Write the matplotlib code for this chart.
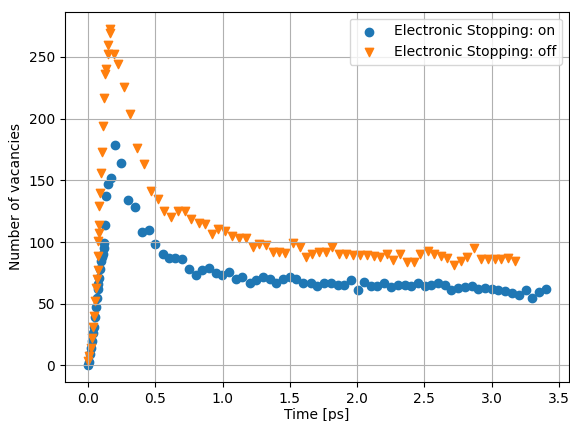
import matplotlib
matplotlib.use("Agg")
import matplotlib.pyplot as plt

# Electronic stopping on
czas_on = [0.0, 0.008, 0.016, 0.022, 0.028, 0.036, 0.043, 0.053, 0.058, 0.066,
           0.072, 0.078, 0.085, 0.093, 0.098, 0.104, 0.11, 0.117, 0.123, 0.13,
           0.137, 0.152, 0.174, 0.204, 0.249, 0.301, 0.353, 0.405, 0.457, 0.501,
           0.561, 0.605, 0.65, 0.702, 0.754, 0.802, 0.85, 0.902, 0.954, 0.999,
           1.05, 1.102, 1.147, 1.206, 1.251, 1.303, 1.355, 1.399, 1.451, 1.503,
           1.548, 1.6, 1.659, 1.704, 1.756, 1.808, 1.86, 1.904, 1.956, 2.008,
           2.053, 2.105, 2.149, 2.201, 2.253, 2.305, 2.357, 2.402, 2.454, 2.506,
           2.55, 2.602, 2.654, 2.699, 2.751, 2.803, 2.855, 2.899, 2.951, 3.003,
           3.048, 3.1, 3.152, 3.204, 3.256, 3.3, 3.352, 3.404]
wakanse_on = [0, 3, 9, 14, 20, 26, 31, 39, 47, 55,
              62, 66, 71, 78, 85, 88, 90, 95, 99, 114,
              137, 147, 152, 179, 164, 134, 128, 108, 110, 98.5,
              90, 87, 87, 86, 78, 73, 77.5, 79, 75, 73.5,
              76, 70, 72, 67, 69.5, 72, 70, 67, 70, 72,
              70, 67, 67, 64, 67, 67, 65, 65, 69.5, 61,
              68, 64.6, 64.6, 67, 63.8, 65.4, 65.4, 64.6, 67, 64.6,
              65.4, 67, 65.4, 61.4, 63, 63.8, 64.6, 62.2, 63, 62.2,
              61.4, 60.6, 59, 57.4, 61.4, 55, 59.8, 62.2]

# Electronic stopping off
czas_off = [0.0, 0.01, 0.02, 0.03, 0.04, 0.048, 0.055, 0.06, 0.066, 0.072,
            0.076, 0.078, 0.08, 0.082, 0.086, 0.09, 0.1, 0.105, 0.115, 0.122,
            0.13, 0.135, 0.147, 0.152, 0.165, 0.167, 0.192, 0.226, 0.271, 0.316,
            0.362, 0.42, 0.469, 0.523, 0.568, 0.618, 0.672, 0.722, 0.766, 0.823,
            0.87, 0.922, 0.969, 1.019, 1.071, 1.12, 1.174, 1.223, 1.268, 1.323,
            1.372, 1.416, 1.466, 1.52, 1.575, 1.62, 1.664, 1.719, 1.768, 1.817,
            1.867, 1.917, 1.971, 2.023, 2.073, 2.122, 2.172, 2.221, 2.27, 2.32,
            2.37, 2.419, 2.468, 2.523, 2.572, 2.622, 2.671, 2.721, 2.771, 2.82,
            2.869, 2.924, 2.973, 3.023, 3.072, 3.122, 3.172]
wakanse_off = [4, 8, 14, 22, 31, 40, 52, 63, 70, 77,
               89, 101, 107, 114, 129, 140, 156, 173, 194, 217,
               236, 240, 252, 260, 269, 273, 252, 244, 226, 204,
               176, 163, 141, 135, 125, 120, 125, 125, 118.5, 115.7,
               114.5, 106.4, 110.4, 109, 105, 103, 103, 96, 98.8, 97.7,
               92.3, 92.3, 91.5, 99.6, 95.6, 88, 90.7, 92, 92, 95.6,
               90.7, 90.2, 89.7, 89.7, 89.7, 88.9, 87.5, 90.7, 85.4, 90.2,
               84.2, 84.2, 90.2, 92.9, 90.7, 88.9, 87, 81.6, 84.8, 87.5,
               95, 86.2, 86.2, 86.2, 86.2, 87, 84.8]

fig = plt.figure(figsize=(5.7, 4.21), dpi=100)
# pozycja osi (piksele)
ax = fig.add_axes([65 / 570, (421 - 382.3) / 421, (569 - 65) / 570, (382.3 - 11.7) / 421])

ax.scatter(czas_on, wakanse_on, marker="o", label="Electronic Stopping: on")
ax.scatter(czas_off, wakanse_off, marker="v", label="Electronic Stopping: off")

ax.set_xlabel("Time [ps]", labelpad=1.5)
ax.set_ylabel("Number of vacancies")
ax.set_xticks([0.0, 0.5, 1.0, 1.5, 2.0, 2.5, 3.0, 3.5])
ax.grid(True)
ax.legend(loc="upper right")

fig.savefig("out.png", dpi=100)
